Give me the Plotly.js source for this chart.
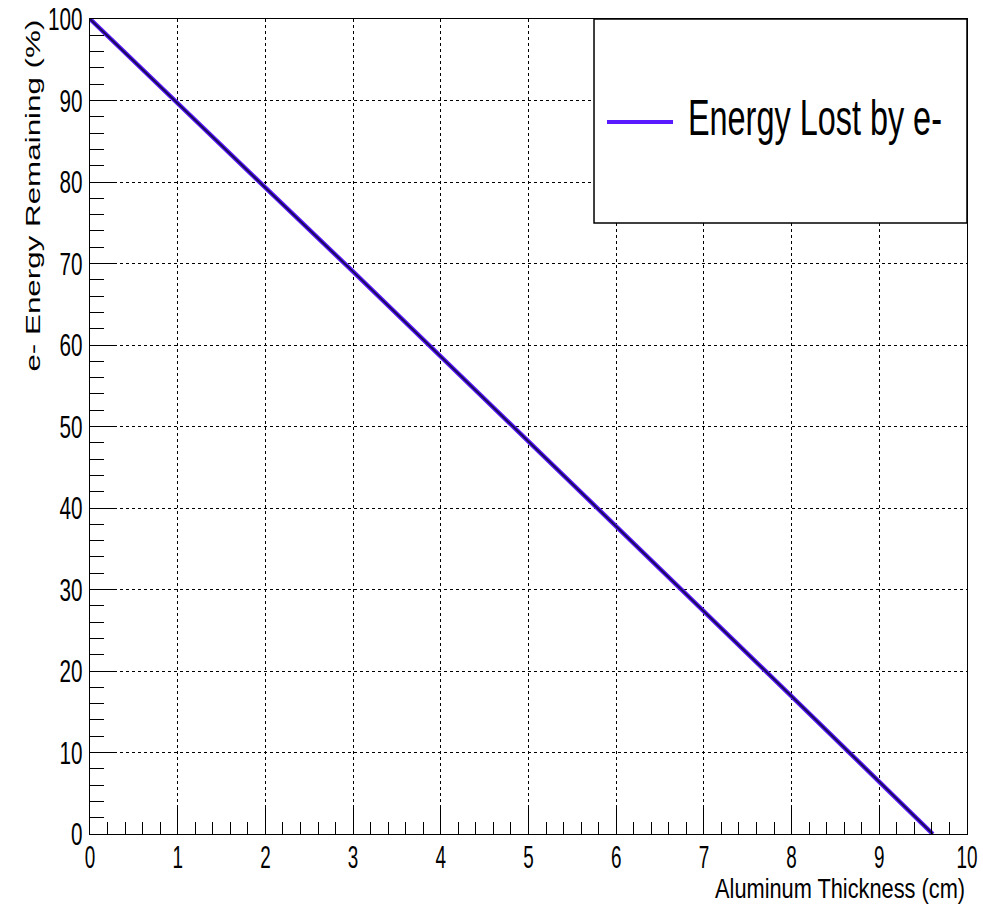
<!DOCTYPE html>
<html><head><meta charset="utf-8">
<script src="https://cdn.plot.ly/plotly-3.0.1.min.js"></script>
<style>html,body{margin:0;padding:0;background:#fff}#plot{width:983px;height:909px}</style>
</head><body><div id="plot"></div>
<script>
const thickness = [0, 1, 2, 3, 4, 5, 6, 7, 8, 9, 9.61];
const energyRemaining = [100, 89.6, 79.3, 69.0, 58.6, 48.1, 37.7, 27.3, 16.9, 6.4, 0];
const seriesName = "Energy Lost by e-";
const xTitle = "Aluminum Thickness (cm)";
const yTitle = "e- Energy Remaining (%)";

const font = "Liberation Sans, Arial, Helvetica, sans-serif";

const traces = [
  {x: thickness, y: energyRemaining, mode: 'lines', line: {color: '#5a1aff', width: 4.5}, showlegend: false, hoverinfo: 'skip'},
  {x: thickness, y: energyRemaining, mode: 'lines', line: {color: '#1a0a5a', width: 2}, showlegend: false, name: seriesName}
];

const axisCommon = {
  showline: true, mirror: true, linecolor: '#000', linewidth: 1,
  showgrid: true, gridcolor: '#000', griddash: 'dot', gridwidth: 1,
  zeroline: false, ticks: 'inside', tickcolor: '#000', tickwidth: 1,
  ticklabeloverflow: 'allow',
  tickfont: {family: font, size: 32, color: '#000'}
};

const layout = {
  width: 983, height: 909,
  margin: {l: 90, r: 16, t: 19, b: 75},
  paper_bgcolor: '#fff', plot_bgcolor: '#fff',
  showlegend: false,
  xaxis: Object.assign({}, axisCommon, {
    range: [0, 10], tick0: 0, dtick: 1, ticklen: 26, ticklabelstandoff: -5,
    minor: {dtick: 0.2, ticklen: 12, ticks: 'inside', tickcolor: '#000', showgrid: false}
  }),
  yaxis: Object.assign({}, axisCommon, {
    range: [0, 100], tick0: 0, dtick: 10, ticklen: 27,
    minor: {dtick: 2, ticklen: 14, ticks: 'inside', tickcolor: '#000', showgrid: false}
  }),
  shapes: [
    {type: 'rect', xref: 'paper', yref: 'paper', x0: 0.5747, x1: 1, y0: 0.7497, y1: 1,
     line: {color: '#000', width: 1.5}, fillcolor: '#fff', layer: 'above'},
    {type: 'line', xref: 'paper', yref: 'paper', x0: 0.5895, x1: 0.6648, y0: 0.8736, y1: 0.8736,
     line: {color: '#5a1aff', width: 4}, layer: 'above'}
  ],
  annotations: [
    {xref: 'paper', yref: 'paper', x: 0.8267, y: 0.8785, xanchor: 'center', yanchor: 'middle',
     text: seriesName, showarrow: false, font: {family: font, size: 50, color: '#000'}},
    {xref: 'paper', yref: 'paper', x: 0.8552, y: -0.0675, xanchor: 'center', yanchor: 'middle',
     text: xTitle, showarrow: false, font: {family: font, size: 27, color: '#000'}},
    {xref: 'paper', yref: 'paper', x: -0.0645, y: 0.7835, xanchor: 'center', yanchor: 'middle',
     text: yTitle, textangle: -90, showarrow: false, font: {family: font, size: 20, color: '#000'}}
  ]
};

function squeeze(el, len) {
  el.setAttribute('textLength', len);
  el.setAttribute('lengthAdjust', 'spacingAndGlyphs');
}

Plotly.newPlot('plot', traces, layout, {displayModeBar: false, staticPlot: true}).then(function (gd) {
  gd.querySelectorAll('.xtick text').forEach(function (t) {
    squeeze(t, t.textContent.length * 10.5);
  });
  gd.querySelectorAll('.ytick text').forEach(function (t) {
    squeeze(t, t.textContent.length * 11.5);
  });
  gd.querySelectorAll('.annotation-text').forEach(function (t) {
    const s = t.textContent;
    if (s === seriesName) squeeze(t, 254);
    else if (s === xTitle) squeeze(t, 250);
    else if (s === yTitle) squeeze(t, 352);
  });
});
</script></body></html>
